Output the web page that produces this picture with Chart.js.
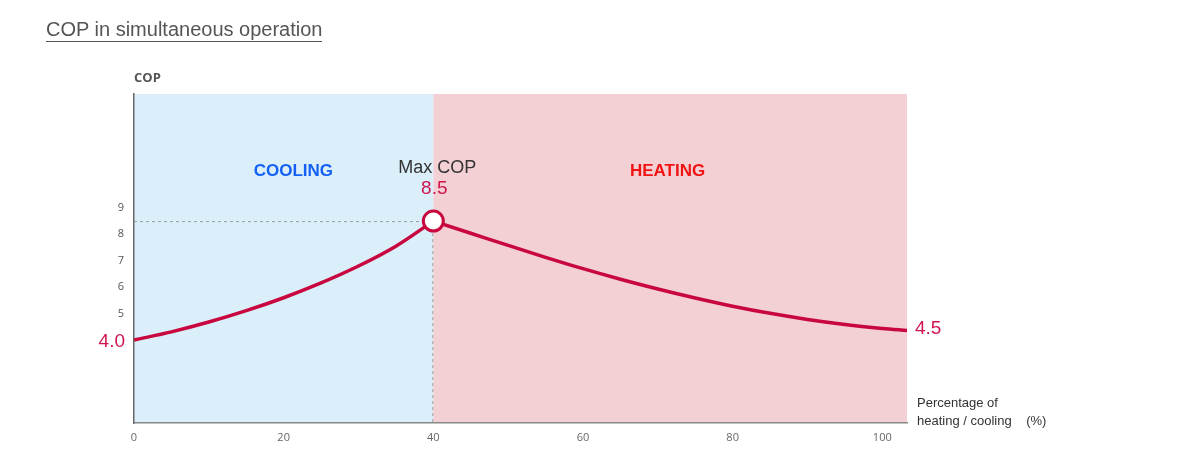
<!DOCTYPE html>
<html lang="en">
<head>
<meta charset="UTF-8">
<title>COP in simultaneous operation</title>
<script src="https://cdn.jsdelivr.net/npm/chart.js"></script>
<style>
  body { margin: 0; background: #fff; }
  #wrap { position: relative; width: 1191px; height: 456px; }
  #title {
    position: absolute; left: 46px; top: 18px;
    font: 20px "Liberation Sans", Arial, sans-serif; line-height: 22px;
    color: #555; border-bottom: 1px solid #555; padding-bottom: 1px;
  }
  canvas { position: absolute; left: 0; top: 0; }
</style>
</head>
<body>
<div id="wrap">
  <canvas id="copChart" width="1191" height="456"></canvas>
  <div id="title">COP in simultaneous operation</div>
</div>

<script>
// percentage of heating / cooling vs COP
const coolingX   = [0, 5, 10, 15, 20, 25, 30, 35, 40];
const coolingCOP = [4.0, 4.31, 4.68, 5.11, 5.6, 6.16, 6.8, 7.55, 8.5];
const heatingX   = [40, 45, 50, 55, 60, 65, 70, 75, 80, 85, 90, 95, 100, 103.3];
const heatingCOP = [8.5, 8.04, 7.58, 7.13, 6.7, 6.3, 5.93, 5.59, 5.28, 5.01, 4.78, 4.59, 4.44, 4.36];
const maxCopX = 40;
const maxCop = 8.5;
const xTicks = [0, 20, 40, 60, 80, 100];
const yTicks = [5, 6, 7, 8, 9];

const lineColor = '#c8073f';
const numColor = '#d0154e';

function pts(xs, ys) {
    return xs.map((x, i) => ({ x: x, y: ys[i] }));
}

// background zones, guide lines and text labels
const decor = {
    id: 'decor',
    beforeDraw(chart) {
        const { ctx, chartArea: a, scales: { x } } = chart;
        const mid = x.getPixelForValue(maxCopX);
        ctx.save();
        ctx.fillStyle = '#dbeffa';
        ctx.fillRect(a.left, a.top, mid - a.left, a.bottom - a.top);
        ctx.fillStyle = '#f3d0d4';
        ctx.fillRect(mid, a.top, a.right - mid, a.bottom - a.top);
        ctx.restore();
    },
    beforeDatasetsDraw(chart) {
        const { ctx, chartArea: a, scales: { x, y } } = chart;
        const px = x.getPixelForValue(maxCopX);
        const py = y.getPixelForValue(maxCop);
        ctx.save();
        ctx.strokeStyle = '#9a9a9a';
        ctx.lineWidth = 1;
        ctx.setLineDash([3, 3]);
        ctx.beginPath();
        ctx.moveTo(a.left, py + 0.5);
        ctx.lineTo(px, py + 0.5);
        ctx.moveTo(px - 0.5, py);
        ctx.lineTo(px - 0.5, a.bottom);
        ctx.stroke();
        ctx.restore();
    },
    afterDraw(chart) {
        const { ctx, chartArea: a, scales: { x, y } } = chart;
        const px = x.getPixelForValue(maxCopX);
        const py = y.getPixelForValue(maxCop);
        ctx.save();
        ctx.textBaseline = 'middle';

        // y axis title
        ctx.font = 'bold 13px "Open Sans", sans-serif';
        ctx.fillStyle = '#555';
        ctx.textAlign = 'left';
        ctx.fillText('COP', a.left, 78);

        // zone names
        ctx.textAlign = 'center';
        ctx.font = 'bold 17px "Liberation Sans", Arial, sans-serif';
        ctx.fillStyle = '#1560f5';
        ctx.fillText('COOLING', x.getPixelForValue(21.3), y.getPixelForValue(10.4));
        ctx.fillStyle = '#f01414';
        ctx.fillText('HEATING', x.getPixelForValue(71.3), y.getPixelForValue(10.4));

        // max point labels
        ctx.font = '18px "Liberation Sans", Arial, sans-serif';
        ctx.fillStyle = '#333';
        ctx.fillText('Max COP', px + 4, py - 53);
        ctx.font = '19px "Liberation Sans", Arial, sans-serif';
        ctx.fillStyle = numColor;
        ctx.fillText(maxCop.toFixed(1), px + 1, py - 32);

        // end values
        ctx.textAlign = 'right';
        ctx.fillText(coolingCOP[0].toFixed(1), x.getPixelForValue(coolingX[0]) - 9, y.getPixelForValue(coolingCOP[0]) + 2);
        ctx.textAlign = 'left';
        const last = heatingX.length - 1;
        ctx.fillText('4.5', x.getPixelForValue(heatingX[last]) + 8, y.getPixelForValue(heatingCOP[last]) - 2);

        // x axis title
        ctx.font = '13px "Liberation Sans", Arial, sans-serif';
        ctx.fillStyle = '#333';
        ctx.fillText('Percentage of', a.right + 10, 403);
        ctx.fillText('heating / cooling    (%)', a.right + 10, 421);
        ctx.restore();
    }
};

new Chart(document.getElementById('copChart'), {
    type: 'line',
    data: {
        datasets: [
            {
                data: [{ x: maxCopX, y: maxCop }],
                showLine: false,
                pointRadius: 10,
                pointBorderWidth: 3,
                pointBackgroundColor: '#fff',
                pointBorderColor: lineColor
            },
            {
                data: pts(coolingX, coolingCOP),
                borderColor: lineColor,
                borderWidth: 3.5,
                pointRadius: 0,
                cubicInterpolationMode: 'monotone',
                fill: false
            },
            {
                data: pts(heatingX, heatingCOP),
                borderColor: lineColor,
                borderWidth: 3.5,
                pointRadius: 0,
                cubicInterpolationMode: 'monotone',
                fill: false
            }
        ]
    },
    options: {
        responsive: false,
        animation: false,
        layout: { padding: { left: 0, right: 284, top: 94, bottom: 0 } },
        plugins: { legend: { display: false }, tooltip: { enabled: false } },
        scales: {
            x: {
                type: 'linear',
                min: 0,
                max: 103.3,
                grid: { display: false, drawTicks: false },
                border: { display: true, color: '#888', width: 1.5 },
                afterBuildTicks: s => { s.ticks = xTicks.map(v => ({ value: v })); },
                afterFit: s => { s.height = 33; },
                ticks: {
                    padding: 8,
                    color: '#666',
                    font: { family: '"Open Sans", sans-serif', size: 11 }
                }
            },
            y: {
                min: 0.86,
                max: 13.31,
                grid: { display: false, drawTicks: false },
                border: { display: true, color: '#666', width: 1.5 },
                afterBuildTicks: s => { s.ticks = yTicks.map(v => ({ value: v })); },
                afterFit: s => { s.width = 134; },
                ticks: {
                    padding: 10,
                    color: '#555',
                    font: { family: '"Open Sans", sans-serif', size: 11 }
                }
            }
        }
    },
    plugins: [decor]
});
</script>
</body>
</html>
